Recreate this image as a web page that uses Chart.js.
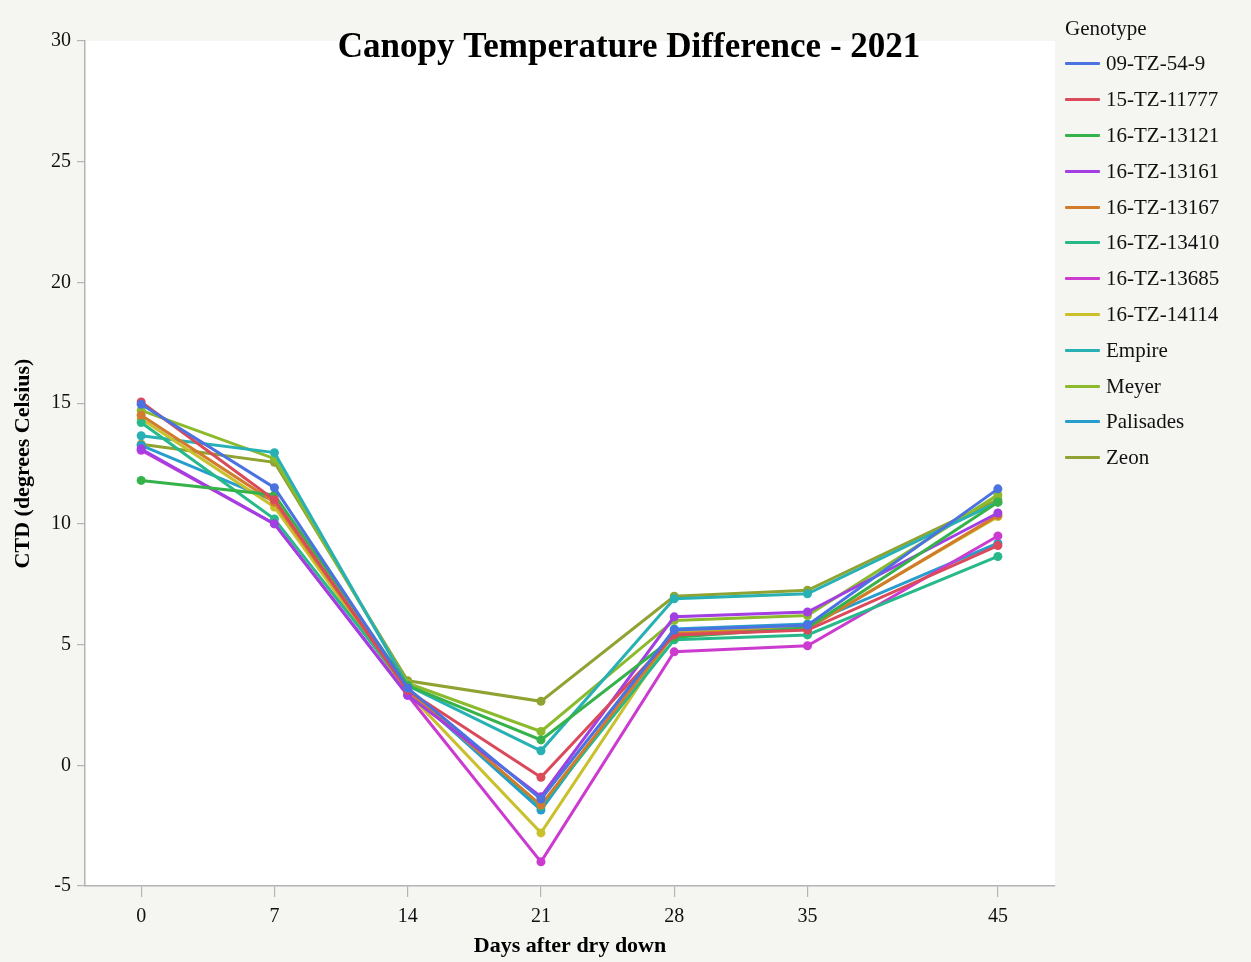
<!DOCTYPE html>
<html>
<head>
<meta charset="utf-8">
<script src="https://cdn.jsdelivr.net/npm/chart.js@4.4.1/dist/chart.umd.min.js"></script>
<style>
  html, body { margin: 0; padding: 0; background: #f5f5f1; }
  #wrap { position: relative; width: 1251px; height: 962px; }
  #c { position: absolute; left: 0; top: 0; }
  #legend { position: absolute; left: 1065px; top: 14px; font-family: "Liberation Serif", "Times New Roman", serif; color: #111; }
  #legend .t { font-size: 21px; height: 32px; line-height: 28px; }
  #legend .it { display: flex; align-items: center; height: 35.8px; font-size: 21px; }
  #legend .sw { width: 35px; height: 3px; margin-right: 6px; border-radius: 1px; }
</style>
</head>
<body>
<div id="wrap">
  <canvas id="c" width="1251" height="962"></canvas>
  <div id="legend"></div>
</div>
<script>
const days = [0, 7, 14, 21, 28, 35, 45];
const xTickValues = [0, 7, 14, 21, 28, 35, 45];
const yTickValues = [-5, 0, 5, 10, 15, 20, 25, 30];

const genotypes = ["09-TZ-54-9", "15-TZ-11777", "16-TZ-13121", "16-TZ-13161", "16-TZ-13167", "16-TZ-13410",
                   "16-TZ-13685", "16-TZ-14114", "Empire", "Meyer", "Palisades", "Zeon"];
const colors = ["#4a72e0", "#da4a5b", "#36b24a", "#a23ee2", "#d27b2c", "#27b98a",
                "#cc3bcf", "#c9c02c", "#27b1b5", "#8cba2d", "#279dcd", "#8ea331"];

const ctd_09_TZ_54_9  = [14.95, 11.5, 3.2, -1.4, 5.6, 5.8, 11.45];
const ctd_15_TZ_11777 = [15.05, 11.0, 3.1, -0.5, 5.4, 5.6, 9.1];
const ctd_16_TZ_13121 = [11.8, 11.2, 3.3, 1.05, 5.3, 5.7, 10.9];
const ctd_16_TZ_13161 = [13.1, 10.0, 2.9, -1.3, 6.15, 6.35, 10.45];
const ctd_16_TZ_13167 = [14.5, 10.9, 3.1, -1.65, 5.45, 5.65, 10.35];
const ctd_16_TZ_13410 = [14.2, 10.2, 3.15, -1.7, 5.2, 5.4, 8.65];
const ctd_16_TZ_13685 = [13.05, 10.0, 2.9, -4.0, 4.7, 4.95, 9.5];
const ctd_16_TZ_14114 = [14.35, 10.7, 3.0, -2.8, 5.5, 5.7, 10.3];
const ctd_Empire      = [13.65, 12.95, 3.3, 0.6, 6.9, 7.1, 10.9];
const ctd_Meyer       = [14.7, 12.7, 3.4, 1.4, 6.0, 6.2, 11.2];
const ctd_Palisades   = [13.25, 10.95, 3.1, -1.85, 5.65, 5.85, 9.2];
const ctd_Zeon        = [13.3, 12.55, 3.5, 2.65, 7.0, 7.25, 11.0];

const seriesValues = [ctd_09_TZ_54_9, ctd_15_TZ_11777, ctd_16_TZ_13121, ctd_16_TZ_13161, ctd_16_TZ_13167,
  ctd_16_TZ_13410, ctd_16_TZ_13685, ctd_16_TZ_14114, ctd_Empire, ctd_Meyer, ctd_Palisades, ctd_Zeon];

const serif = '"Liberation Serif", "Times New Roman", serif';

const datasets = genotypes.map((g, i) => ({
  label: g,
  data: days.map((d, j) => ({ x: d, y: seriesValues[i][j] })),
  borderColor: colors[i],
  backgroundColor: colors[i],
  borderWidth: 3,
  pointRadius: 4.5,
  pointBorderWidth: 0,
  tension: 0
}));

const bgPlugin = {
  id: 'bg',
  beforeDraw(chart) {
    const { ctx, chartArea: a } = chart;
    ctx.save();
    ctx.fillStyle = '#f5f5f1';
    ctx.fillRect(0, 0, chart.width, chart.height);
    ctx.fillStyle = '#ffffff';
    ctx.fillRect(a.left, a.top, a.right - a.left, a.bottom - a.top);
    ctx.restore();
  }
};
const titlePlugin = {
  id: 'ttl',
  afterDraw(chart) {
    const { ctx } = chart;
    ctx.save();
    ctx.font = 'bold 35px ' + serif;
    ctx.fillStyle = '#000';
    ctx.textAlign = 'center';
    ctx.textBaseline = 'middle';
    ctx.fillText('Canopy Temperature Difference - 2021', 629, 48);
    ctx.restore();
  }
};

new Chart(document.getElementById('c'), {
  type: 'line',
  data: { datasets },
  plugins: [bgPlugin, titlePlugin],
  options: {
    responsive: false,
    animation: false,
    layout: { padding: { top: 41, right: 196, left: 0, bottom: 0 } },
    plugins: { legend: { display: false }, tooltip: { enabled: false } },
    scales: {
      x: {
        type: 'linear',
        min: -2.95,
        max: 48,
        afterBuildTicks(s) { s.ticks = xTickValues.map(v => ({ value: v })); },
        afterFit(s) { s.height = 76; },
        border: { color: '#b4b4b4', width: 1.5 },
        grid: { drawOnChartArea: false, color: '#b4b4b4', tickLength: 11, lineWidth: 1.2 },
        ticks: { color: '#111', font: { family: serif, size: 20 }, padding: 8, maxRotation: 0 },
        title: { display: true, text: 'Days after dry down', color: '#000', font: { family: serif, size: 22, weight: 'bold' }, padding: { top: 0, bottom: 2 } }
      },
      y: {
        min: -5,
        max: 30,
        afterBuildTicks(s) { s.ticks = yTickValues.map(v => ({ value: v })); },
        afterFit(s) { s.width = 85; },
        border: { color: '#b4b4b4', width: 1.5 },
        grid: { drawOnChartArea: false, color: '#b4b4b4', tickLength: 8, lineWidth: 1.2 },
        ticks: { color: '#111', font: { family: serif, size: 20 }, padding: 6 },
        title: { display: true, text: 'CTD (degrees Celsius)', color: '#000', font: { family: serif, size: 22, weight: 'bold' }, padding: { top: 10, bottom: 0 } }
      }
    }
  }
});

const lg = document.getElementById('legend');
let html = '<div class="t">Genotype</div>';
genotypes.forEach((g, i) => {
  html += '<div class="it"><span class="sw" style="background:' + colors[i] + '"></span>' + g + '</div>';
});
lg.innerHTML = html;
</script>
</body>
</html>
